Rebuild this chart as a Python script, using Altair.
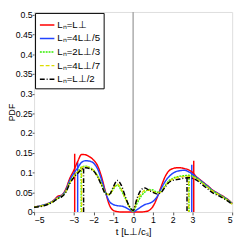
import altair as alt
import pandas as pd

# ---- data ----
t = [-5, -4.5, -4, -3.8, -3.6, -3.4, -3.2, -3.0, -2.8, -2.6, -2.4, -2.2, -2.0, -1.8, -1.6, -1.4,
     -1.2, -1.0, -0.8, -0.6, -0.4, -0.2, 0, 0.2, 0.4, 0.6, 0.8, 1.0, 1.2, 1.4, 1.6, 1.8, 2.0, 2.2,
     2.4, 2.6, 2.8, 3.0, 3.2, 3.4, 3.6, 3.8, 4.0, 4.2, 4.4, 4.6, 4.8, 5.0]

pdf_red = [0.013, 0.018, 0.030, 0.040, 0.043, 0.058, 0.085, 0.105, 0.128, 0.146, 0.145, 0.140,
           0.132, 0.118, 0.090, 0.052, 0.018, 0.004, 0.001, 0.0, 0.0, 0.0, 0.0, 0.0, 0.0, 0.001,
           0.004, 0.014, 0.035, 0.062, 0.088, 0.104, 0.110, 0.112, 0.112, 0.110, 0.107, 0.100,
           0.089, 0.081, 0.073, 0.065, 0.056, 0.050, 0.044, 0.038, 0.031, 0.022]
pdf_blue = [0.013, 0.018, 0.029, 0.037, 0.042, 0.055, 0.080, 0.098, 0.112, 0.126, 0.130, 0.129,
            0.124, 0.110, 0.083, 0.050, 0.027, 0.019, 0.016, 0.015, 0.012, 0.006, 0.001, 0.006,
            0.013, 0.019, 0.022, 0.027, 0.038, 0.058, 0.076, 0.089, 0.098, 0.103, 0.105, 0.106,
            0.102, 0.096, 0.088, 0.080, 0.072, 0.064, 0.055, 0.049, 0.043, 0.037, 0.030, 0.021]
pdf_green = [0.013, 0.017, 0.028, 0.035, 0.040, 0.052, 0.075, 0.090, 0.102, 0.114, 0.116, 0.113,
             0.106, 0.092, 0.072, 0.049, 0.044, 0.058, 0.068, 0.055, 0.035, 0.015, 0.002, 0.022,
             0.040, 0.051, 0.057, 0.056, 0.050, 0.052, 0.066, 0.079, 0.085, 0.089, 0.091, 0.092,
             0.093, 0.091, 0.086, 0.078, 0.070, 0.062, 0.054, 0.048, 0.042, 0.036, 0.029, 0.021]
pdf_yellow = [0.013, 0.017, 0.028, 0.035, 0.040, 0.052, 0.074, 0.089, 0.101, 0.113, 0.115, 0.112,
              0.105, 0.090, 0.070, 0.048, 0.044, 0.060, 0.071, 0.058, 0.036, 0.014, 0.003, 0.030,
              0.046, 0.055, 0.055, 0.052, 0.048, 0.051, 0.064, 0.077, 0.083, 0.087, 0.089, 0.090,
              0.091, 0.089, 0.085, 0.077, 0.069, 0.061, 0.053, 0.047, 0.041, 0.035, 0.028, 0.020]
pdf_black = [0.012, 0.016, 0.027, 0.034, 0.039, 0.050, 0.072, 0.087, 0.098, 0.108, 0.112, 0.110,
             0.104, 0.090, 0.068, 0.047, 0.045, 0.064, 0.080, 0.068, 0.040, 0.015, 0.004, 0.035,
             0.056, 0.061, 0.055, 0.050, 0.046, 0.049, 0.062, 0.075, 0.080, 0.082, 0.084, 0.086,
             0.087, 0.085, 0.081, 0.073, 0.065, 0.057, 0.049, 0.044, 0.039, 0.033, 0.027, 0.019]

names = ["Lₙ=L⊥", "Lₙ=4L⊥/5", "Lₙ=2L⊥/3", "Lₙ=4L⊥/7", "Lₙ=L⊥/2"]
series = [pdf_red, pdf_blue, pdf_green, pdf_yellow, pdf_black]

# vertical marker lines (position, height) on each side
left_t = [-2.95, -2.80, -2.62, -2.60, -2.50]
left_h = [0.148, 0.126, 0.113, 0.113, 0.110]
right_t = [3.06, 2.96, 2.82, 2.80, 2.72]
right_h = [0.130, 0.120, 0.093, 0.093, 0.088]

x_ticks = [-5, -3, -2, -1, 0, 1, 2, 3, 5]
y_ticks = [0, 0.05, 0.1, 0.15, 0.2, 0.25, 0.3, 0.35, 0.4, 0.45, 0.5]

colors = ["#ff0000", "#2244ff", "#33ee00", "#dddd00", "#000000"]
dashes = [[1, 0], [1, 0], [2, 1], [4, 2], [5, 2, 1, 2]]

rows = []
for n, vals in zip(names, series):
    for tt, v in zip(t, vals):
        rows.append({"t": tt, "pdf": v, "series": n})
df = pd.DataFrame(rows)

vrows = []
for i, n in enumerate(names):
    vrows.append({"t": left_t[i], "h": left_h[i], "series": n})
    vrows.append({"t": right_t[i], "h": right_h[i], "series": n})
vdf = pd.DataFrame(vrows)

xscale = alt.Scale(domain=[-5, 5], nice=False, zero=False)
yscale = alt.Scale(domain=[0, 0.507], nice=False)
cscale = alt.Scale(domain=names, range=colors)
dscale = alt.Scale(domain=names, range=dashes)

leg = alt.Legend(title=None, orient="top-left", offset=1, fillColor="white",
                 strokeColor="#000", padding=4, symbolType="stroke", symbolSize=225,
                 symbolStrokeWidth=1.5, labelFontSize=10, labelFont="Liberation Sans",
                 rowPadding=0, labelOffset=2, labelLimit=70)

xaxis = alt.Axis(values=x_ticks, title="t [L⊥/cₛ]", format="~g", grid=False,
                 domain=False, tickSize=3, tickColor="#555", labelFontSize=9,
                 labelFont="Liberation Sans", titleFont="Liberation Sans",
                 titleFontSize=10, titleFontWeight="normal", titlePadding=2,
                 labelPadding=1, labelColor="#000", labelOverlap=False)
yaxis = alt.Axis(values=y_ticks, title="PDF", format="~g", grid=False,
                 domain=False, tickSize=2, tickColor="#555", labelFontSize=9,
                 labelFont="Liberation Sans", titleFont="Liberation Sans",
                 titleFontSize=9, titleFontWeight="normal", titleX=-27,
                 titleBaseline="top", labelPadding=0, labelColor="#000",
                 labelOverlap=False)

zero_line = alt.Chart(pd.DataFrame({"z": [0]})).mark_rule(
    color="#aaaaaa", strokeWidth=1.5).encode(x=alt.X("z:Q", scale=xscale, axis=xaxis))

lines = alt.Chart(df).mark_line(strokeWidth=1.5, interpolate="monotone").encode(
    x=alt.X("t:Q", scale=xscale, axis=xaxis),
    y=alt.Y("pdf:Q", scale=yscale, axis=yaxis),
    color=alt.Color("series:N", scale=cscale, sort=names, legend=leg),
    strokeDash=alt.StrokeDash("series:N", scale=dscale, sort=names, legend=leg),
)

vlines = alt.Chart(vdf).mark_rule(strokeWidth=1.5).encode(
    x=alt.X("t:Q", scale=xscale, axis=xaxis),
    y=alt.Y("h:Q", scale=yscale, axis=yaxis),
    y2=alt.datum(0),
    color=alt.Color("series:N", scale=cscale, sort=names, legend=leg),
    strokeDash=alt.StrokeDash("series:N", scale=dscale, sort=names, legend=leg),
)

chart = alt.layer(zero_line, vlines, lines).properties(
    width=205, height=207,
    autosize=alt.AutoSizeParams(type="none"),
    padding={"left": 27, "top": 0, "right": 5, "bottom": 30},
).configure_view(stroke="#555", strokeWidth=1).configure(background="white")

chart.save("out.html", embed_options={"renderer": "svg", "actions": False})
